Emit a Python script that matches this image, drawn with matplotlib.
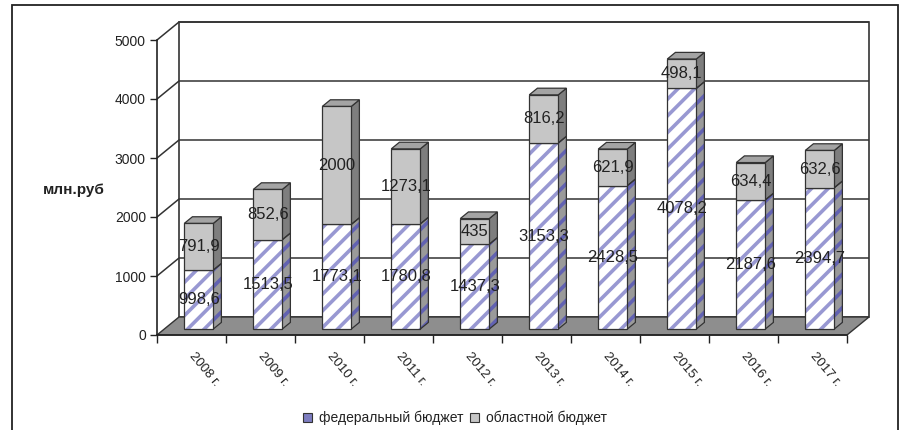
import matplotlib
matplotlib.use("Agg")
import matplotlib.pyplot as plt
from matplotlib.patches import Polygon, Rectangle, Patch

# ---- data ----
years = ["2008 г.", "2009 г.", "2010 г.", "2011 г.", "2012 г.",
         "2013 г.", "2014 г.", "2015 г.", "2016 г.", "2017 г."]
federal = [998.6, 1513.5, 1773.1, 1780.8, 1437.3, 3153.3, 2428.5, 4078.2, 2187.6, 2394.7]
regional = [791.9, 852.6, 2000, 1273.1, 435, 816.2, 621.9, 498.1, 634.4, 632.6]
series_names = ["федеральный бюджет", "областной бюджет"]
y_ticks = [0, 1000, 2000, 3000, 4000, 5000]
y_label = "млн.руб"

plt.rcParams["font.family"] = ["Liberation Sans", "DejaVu Sans"]
plt.rcParams["hatch.linewidth"] = 2.6

W, H = 903, 430
fig = plt.figure(figsize=(W / 100, H / 100), dpi=100)
ax = fig.add_axes([157 / W, 95 / H, 690 / W, 295 / H])
n = len(years)
ymax = y_ticks[-1]
ax.set_xlim(0, n)
ax.set_ylim(0, ymax)

# oblique depth offset (full depth) expressed in data units
DDX = 22 * n / 690
DDY = 18 * ymax / 295


def P(x, y, d):
    return (x + d * DDX, y + d * DDY)


GRID = "#333333"
FLOOR = "#8e8e8e"
HATCH = "#9898d2"

# walls
ax.add_patch(Polygon([P(0, 0, 1), P(n, 0, 1), P(n, ymax, 1), P(0, ymax, 1)],
                     closed=True, facecolor="white", edgecolor=GRID, lw=1.2,
                     zorder=0.5, clip_on=False))
ax.add_patch(Polygon([P(0, 0, 0), P(0, 0, 1), P(0, ymax, 1), P(0, ymax, 0)],
                     closed=True, facecolor="white", edgecolor="none",
                     zorder=0.4, clip_on=False))
for yv in y_ticks[1:]:
    pts = [P(0, yv, 0), P(0, yv, 1), P(n, yv, 1)]
    ax.plot([p[0] for p in pts], [p[1] for p in pts], color=GRID, lw=1.1,
            zorder=0.8, clip_on=False, solid_capstyle="butt")

# floor
ax.add_patch(Polygon([P(0, 0, 0), P(n, 0, 0), P(n, 0, 1), P(0, 0, 1)],
                     closed=True, facecolor=FLOOR, edgecolor=GRID, lw=1.0,
                     zorder=1, clip_on=False))

# bars
D0, D1, BW = 0.33, 0.70, 0.42


def fmt(v):
    return f"{v:g}".replace(".", ",")


for i in range(n):
    xc = i + 0.5
    xl, xr = xc - BW / 2, xc + BW / 2
    f, r = federal[i], regional[i]
    tot = f + r
    z = 2 + i * 0.01
    # side faces
    ax.add_patch(Polygon([P(xr, 0, D0), P(xr, 0, D1), P(xr, f, D1), P(xr, f, D0)],
                         closed=True, facecolor="#9a9a9a", edgecolor="#6262b2",
                         lw=0, hatch="//", zorder=z, clip_on=False))
    ax.add_patch(Polygon([P(xr, 0, D0), P(xr, 0, D1), P(xr, f, D1), P(xr, f, D0)],
                         closed=True, fill=False, edgecolor=GRID, lw=0.9,
                         zorder=z + 0.001, clip_on=False))
    ax.add_patch(Polygon([P(xr, f, D0), P(xr, f, D1), P(xr, tot, D1), P(xr, tot, D0)],
                         closed=True, facecolor="#7e7e7e", edgecolor=GRID, lw=0.9,
                         zorder=z, clip_on=False))
    # top face
    ax.add_patch(Polygon([P(xl, tot, D0), P(xr, tot, D0), P(xr, tot, D1), P(xl, tot, D1)],
                         closed=True, facecolor="#a4a4a4", edgecolor=GRID, lw=0.9,
                         zorder=z, clip_on=False))

bx = [i + 0.5 + D0 * DDX for i in range(n)]
b0 = D0 * DDY
ax.bar(bx, federal, width=BW, bottom=b0, facecolor="white", edgecolor=HATCH,
       lw=0, hatch="//", zorder=2.5, clip_on=False)
ax.bar(bx, federal, width=BW, bottom=b0, fill=False, edgecolor=GRID,
       lw=0.9, zorder=2.6, clip_on=False)
ax.bar(bx, regional, width=BW, bottom=[b0 + f for f in federal], facecolor="#c6c6c6",
       edgecolor=GRID, lw=0.9, zorder=2.6, clip_on=False)

# value labels
for i in range(n):
    ax.text(bx[i], b0 + federal[i] / 2, fmt(federal[i]), ha="center", va="center",
            fontsize=12, color="#222222", zorder=5)
    ax.text(bx[i], b0 + federal[i] + regional[i] / 2, fmt(regional[i]), ha="center",
            va="center", fontsize=12, color="#222222", zorder=5)

# axes
for s in ("top", "right"):
    ax.spines[s].set_visible(False)
for s in ("left", "bottom"):
    ax.spines[s].set_color("#222222")
    ax.spines[s].set_linewidth(1.2)
    ax.spines[s].set_zorder(3)
ax.set_yticks(y_ticks)
ax.set_yticklabels([str(t) for t in y_ticks], fontsize=10, color="#222222")
ax.tick_params(axis="y", direction="out", length=5, width=1, color="#222222", pad=3)
ax.set_xticks(range(n + 1))
ax.set_xticklabels([])
ax.tick_params(axis="x", which="major", direction="out", length=6, width=1, color="#222222")
ax.set_xticks([i + 0.5 for i in range(n)], minor=True)
ax.set_xticklabels(years, minor=True, rotation=-50, ha="left", va="center",
                   rotation_mode="anchor", fontsize=9.5, color="#222222")
ax.tick_params(axis="x", which="minor", length=0, pad=14)

fig.text(74 / W, 1 - 190 / H, y_label, ha="center", va="center",
         fontsize=11, fontweight="bold", color="#222222")

# legend
handles = [Patch(facecolor="#7d7dc0", edgecolor="#333333", lw=0.8),
           Patch(facecolor="#c6c6c6", edgecolor="#333333", lw=0.8)]
fig.legend(handles, series_names, loc="center", bbox_to_anchor=(455 / W, 1 - 418 / H),
           ncol=2, frameon=False, fontsize=10, handlelength=0.65, handleheight=0.65,
           handletextpad=0.5, columnspacing=0.5, labelcolor="#222222")

# outer frame
fig.patches.append(Rectangle((12 / W, -0.02), (898 - 12) / W, 1.02 - 5 / H,
                             transform=fig.transFigure, fill=False,
                             edgecolor="#222222", lw=1.3))

fig.savefig("out.png", dpi=100)
